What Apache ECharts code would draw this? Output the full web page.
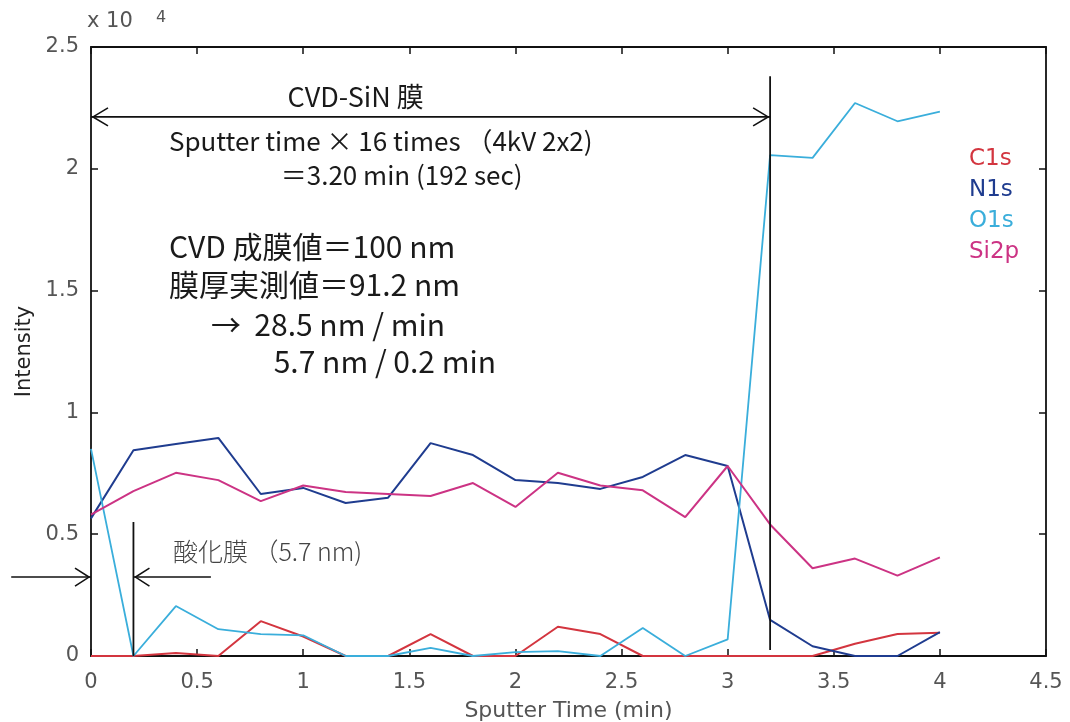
<!DOCTYPE html>
<html>
<head>
<meta charset="utf-8">
<script src="https://cdn.jsdelivr.net/npm/echarts@6/dist/echarts.min.js"></script>
<style>
  html, body { margin: 0; padding: 0; background: #fff; }
  #chart { width: 1070px; height: 722px; }
</style>
</head>
<body>
<div id="chart"></div>
<script>
// XPS depth profile of a CVD-SiN film (intensity in units of 10^4 counts)
const sputterTime = [0, 0.2, 0.4, 0.6, 0.8, 1.0, 1.2, 1.4, 1.6, 1.8, 2.0,
                     2.2, 2.4, 2.6, 2.8, 3.0, 3.2, 3.4, 3.6, 3.8, 4.0];
const c1s  = [0, 0, 0.012, 0, 0.143, 0.08, 0, 0, 0.09, 0, 0,
              0.12, 0.09, 0, 0, 0, 0, 0, 0.05, 0.09, 0.095];
const n1s  = [0.565, 0.845, 0.87, 0.895, 0.665, 0.69, 0.628, 0.65, 0.874, 0.825, 0.722,
              0.71, 0.686, 0.735, 0.825, 0.78, 0.148, 0.04, 0, 0, 0.098];
const o1s  = [0.85, 0, 0.205, 0.11, 0.09, 0.085, 0, 0, 0.033, 0, 0.016,
              0.02, 0, 0.115, 0, 0.068, 2.056, 2.045, 2.27, 2.195, 2.235];
const si2p = [0.58, 0.677, 0.752, 0.722, 0.636, 0.70, 0.673, 0.665, 0.657, 0.71, 0.612,
              0.752, 0.70, 0.68, 0.57, 0.78, 0.54, 0.36, 0.40, 0.33, 0.405];

const seriesNames  = ['C1s', 'N1s', 'O1s', 'Si2p'];
const seriesValues = [c1s, n1s, o1s, si2p];
const seriesColors = ['#d3353f', '#1f3c8f', '#3aaedb', '#cc3384'];

const xTicks = { min: 0, max: 4.5, interval: 0.5 };
const yTicks = { min: 0, max: 2.5, interval: 0.5 };

// Annotation geometry in data units (time, intensity)
const filmEnd = 3.2;          // end of the SiN layer
const oxideEnd = 0.2;         // end of the surface oxide
const filmArrowY = 2.213;
const filmLineTop = 2.38;
const oxideLineTop = 0.55;
const oxideArrowY = 0.324;

const noteLines = [
  { text: 'CVD-SiN 膜', x: 1.247, y: 2.295, size: 27, align: 'center' },
  { text: 'Sputter time × 16 times （4kV 2x2)', x: 0.367, y: 2.114, size: 26, align: 'left' },
  { text: '＝3.20 min (192 sec)', x: 0.894, y: 1.975, size: 26, align: 'left' },
  { text: 'CVD 成膜値＝100 nm', x: 0.367, y: 1.679, size: 30, align: 'left' },
  { text: '膜厚実測値＝91.2 nm', x: 0.367, y: 1.523, size: 30, align: 'left' },
  { text: '→  28.5 nm / min', x: 0.565, y: 1.359, size: 30, align: 'left' },
  { text: '5.7 nm / 0.2 min', x: 0.861, y: 1.207, size: 30, align: 'left' }
];
const oxideNote = { text: '酸化膜 （5.7 nm)', x: 0.386, y: 0.427, size: 25 };

const axisFont = 'DejaVu Sans, Liberation Sans, sans-serif';
const noteFont = 'Noto Sans CJK JP, Noto Sans, sans-serif';
const tickColor = '#555';

function chevron(tip, dir, len, half) {
  // open arrowhead: dir = +1 points right, -1 points left
  return {
    type: 'polyline',
    shape: { points: [[tip[0] - dir * len, tip[1] - half], tip, [tip[0] - dir * len, tip[1] + half]] },
    style: { stroke: '#111', lineWidth: 1.6, fill: null }
  };
}
function seg(a, b, w) {
  return { type: 'line', shape: { x1: a[0], y1: a[1], x2: b[0], y2: b[1] },
           style: { stroke: '#111', lineWidth: w || 1.6 } };
}

function renderNotes(params, api) {
  const children = [];
  // SiN film span
  const fl = api.coord([0, filmArrowY]);
  const fr = api.coord([filmEnd, filmArrowY]);
  children.push(seg(fl, fr, 1.6));
  children.push(chevron([fl[0] + 2, fl[1]], -1, 15, 9));
  children.push(chevron([fr[0] - 2, fr[1]], 1, 15, 9));
  children.push(seg(api.coord([filmEnd, filmLineTop]), api.coord([filmEnd, 0.025]), 1.8));
  // oxide layer markers
  children.push(seg(api.coord([oxideEnd, oxideLineTop]), api.coord([oxideEnd, 0]), 1.8));
  const la = api.coord([-0.376, oxideArrowY]);
  const lb = api.coord([0, oxideArrowY]);
  children.push(seg(la, lb, 1.4));
  children.push(chevron([lb[0] - 2, lb[1]], 1, 14, 9));
  const ra = api.coord([0.565, oxideArrowY]);
  const rb = api.coord([oxideEnd, oxideArrowY]);
  children.push(seg(ra, rb, 1.4));
  children.push(chevron([rb[0] + 2, rb[1]], -1, 14, 9));
  // text notes
  noteLines.forEach(n => {
    const p = api.coord([n.x, n.y]);
    children.push({
      type: 'text', x: p[0], y: p[1],
      style: { text: n.text, fill: '#1a1a1a', fontSize: n.size, fontFamily: noteFont,
               align: n.align, verticalAlign: 'middle' }
    });
  });
  const op = api.coord([oxideNote.x, oxideNote.y]);
  children.push({
    type: 'text', x: op[0], y: op[1],
    style: { text: oxideNote.text, fill: '#444', fontSize: oxideNote.size, fontFamily: noteFont,
             fontWeight: 300, align: 'left', verticalAlign: 'middle' }
  });
  return { type: 'group', children };
}

const chart = echarts.init(document.getElementById('chart'), null, { renderer: 'canvas' });

const lineSeries = seriesNames.map((name, k) => ({
  name,
  type: 'line',
  data: sputterTime.map((t, i) => [t, seriesValues[k][i]]),
  showSymbol: false,
  symbol: 'none',
  lineStyle: { color: seriesColors[k], width: k === 2 ? 1.8 : 2 },
  itemStyle: { color: seriesColors[k] },
  z: 3,
  animation: false
}));

const axisCommon = {
  axisLine: { show: true, onZero: false, lineStyle: { color: '#111', width: 1.8 } },
  axisTick: { show: true, inside: true, length: 7, lineStyle: { color: '#111', width: 1.5 } },
  splitLine: { show: false }
};

chart.setOption({
  animation: false,
  backgroundColor: '#fff',
  grid: { left: 91, right: 24, top: 47, bottom: 66, containLabel: false, outerBoundsMode: 'none' },
  legend: {
    orient: 'vertical',
    left: 959, top: 143,
    icon: 'none', itemWidth: 0, itemHeight: 10, itemGap: 8,
    selectedMode: false,
    data: seriesNames.map((n, k) => ({
      name: n,
      textStyle: { color: seriesColors[k], fontSize: 23, fontFamily: axisFont }
    }))
  },
  xAxis: [
    Object.assign({
      type: 'value', position: 'bottom',
      min: xTicks.min, max: xTicks.max, interval: xTicks.interval,
      name: 'Sputter Time (min)', nameLocation: 'middle', nameGap: 44,
      nameTextStyle: { color: tickColor, fontSize: 22, fontFamily: axisFont },
      axisLabel: { color: tickColor, fontSize: 21, fontFamily: axisFont, margin: 16 }
    }, axisCommon),
    Object.assign({
      type: 'value', position: 'top',
      min: xTicks.min, max: xTicks.max, interval: xTicks.interval,
      axisLabel: { show: false }
    }, axisCommon)
  ],
  yAxis: [
    Object.assign({
      type: 'value', position: 'left',
      min: yTicks.min, max: yTicks.max, interval: yTicks.interval,
      name: 'Intensity', nameLocation: 'middle', nameGap: 43, nameRotate: 90,
      nameTextStyle: { color: '#222', fontSize: 21, fontFamily: axisFont },
      axisLabel: { color: tickColor, fontSize: 21, fontFamily: axisFont, margin: 12 }
    }, axisCommon),
    Object.assign({
      type: 'value', position: 'right',
      min: yTicks.min, max: yTicks.max, interval: yTicks.interval,
      axisLabel: { show: false }
    }, axisCommon)
  ],
  graphic: [
    { type: 'text', left: 87, top: 11,
      style: { text: 'x 10', fontSize: 21, fill: tickColor, fontFamily: axisFont } },
    { type: 'text', left: 156, top: 10,
      style: { text: '4', fontSize: 16, fill: tickColor, fontFamily: axisFont } }
  ],
  series: lineSeries.concat([{
    type: 'custom',
    coordinateSystem: 'cartesian2d',
    clip: false,
    silent: true,
    z: 5,
    data: [[0, 0]],
    renderItem: renderNotes
  }])
});
</script>
</body>
</html>
